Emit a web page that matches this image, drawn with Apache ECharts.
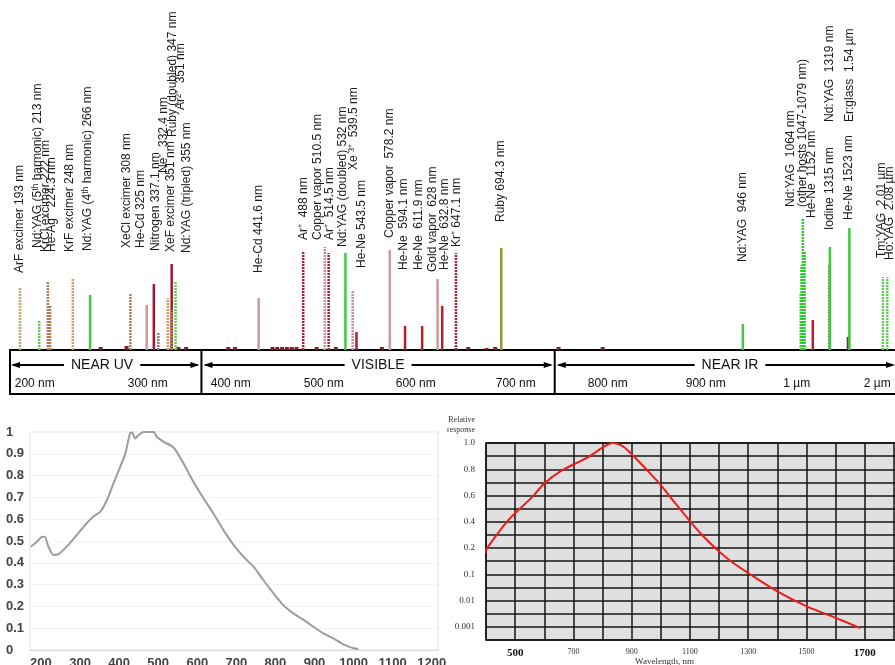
<!DOCTYPE html>
<html>
<head>
<meta charset="utf-8">
<script src="https://cdn.jsdelivr.net/npm/echarts@6/dist/echarts.min.js"></script>
<style>
  html, body { margin: 0; padding: 0; background: #fff; }
  #chart { width: 895px; height: 665px; }
</style>
</head>
<body>
<div id="chart"></div>
<script>
// ---- top panel: laser lines ----
const laserNames = [
  "ArF excimer 193 nm", "Nd:YAG (5ᵗʰ harmonic) 213 nm", "KrCl excimer 222 nm", "He-Ag⁺  224.3 nm",
  "KrF excimer 248 nm", "Nd:YAG (4ᵗʰ harmonic) 266 nm", "XeCl excimer 308 nm", "He-Cd 325 nm",
  "Ne⁺  332.4 nm", "Nitrogen 337.1 nm", "Ruby (doubled) 347 nm", "XeF excimer 351 nm",
  "Ar²⁺  351 nm", "Nd:YAG (tripled) 355 nm", "He-Cd 441.6 nm", "Ar⁺  488 nm",
  "Copper vapor 510.5 nm", "Ar⁺  514.5 nm", "Nd:YAG (doubled) 532 nm", "Xe ³⁺  539.5 nm",
  "He-Ne 543.5 nm", "Copper vapor  578.2 nm", "He-Ne  594.1 nm", "He-Ne  611.9 nm",
  "Gold vapor  628 nm", "He-Ne  632.8 nm", "Kr⁺ 647.1 nm", "Ruby 694.3 nm",
  "Nd:YAG  946 nm", "", "", "Nd:YAG  1064 nm\n(other hosts 1047-1079 nm)", "",
  "He-Ne  1152 nm", "Iodine 1315 nm", "Nd:YAG  1319 nm", "He-Ne 1523 nm",
  "Er:glass  1.54 µm", "Tm:YAG  2.01 µm", "Ho:YAG  2.08 µm"
];
const laserWavelengths = [
  193, 213, 222, 224.3, 248, 266, 308, 325, 332.4, 337.1, 347, 351, 351, 355,
  441.6, 488, 510.5, 514.5, 532, 539.5, 543.5, 578.2, 594.1, 611.9, 628, 632.8, 647.1, 694.3,
  946, 1047, 1053, 1064, 1079, 1152, 1315, 1319, 1523, 1540, 2010, 2080
];
const laserHeights = [
  63, 30, 68, 45, 72, 55, 56, 45, 66, 18, 52, 86, 40, 68,
  52, 98, 103, 97, 97, 60, 18, 100, 24, 24, 71, 44, 97, 102,
  26, 57, 85, 131, 98, 30, 85, 103, 13, 122, 73, 73
];
const laserTones = [
  "tanDot", "greenDot", "brownDot", "brownDot", "tanDot", "green", "brownDot", "mauve",
  "darkred", "grayDot", "orangeDot", "darkred", "brownDot", "greenDot",
  "mauve", "redDot", "mauveDot", "redDot", "green", "mauveDot", "red", "mauve",
  "red", "red", "mauve", "red", "redDot", "olive",
  "green", "brightDot", "brightDot", "brightDot", "brightDot", "red", "darkDot", "green",
  "darkred", "green", "greenDot", "greenDot"
];
// label layout: horizontal shift (px) and height of the label start
const labelShift = [
  0, -2, -2, 2, -3, -2, -4, -6, 10, -3, 5, -1, 9, 11,
  0, 0, -7, 1, -3, 1, 5, 0, -1, -3, -5, 2, 1, -1,
  0, 0, 0, -6, 0, -1, 0, 0, 1, 0, -1, 2
];
const labelLift = [
  77, 102, 98, 98, 98, 99, 102, 102, 177, 99, 213, 98, 240, 97,
  77, 110, 110, 110, 103, 180, 82, 112, 80, 80, 78, 80, 103, 128,
  88, 0, 0, 143, 0, 132, 120, 228, 130, 228, 92, 90
];
// tiny baseline marks
const minorWavelengths = [277, 304, 358, 366, 410, 417, 456, 461, 466, 471, 476, 481, 502, 522, 570, 660, 679, 688, 754, 800];
const minorHeights = [3, 4, 3, 3, 3, 3, 3, 3, 3, 3, 3, 3, 3, 3, 3, 3, 2, 3, 3, 3];

const scaleTicks = [200, 300, 400, 500, 600, 700, 800, 900, 1000, 2000];
const scaleTickText = ["200 nm", "300 nm", "400 nm", "500 nm", "600 nm", "700 nm", "800 nm", "900 nm", "1 µm", "2 µm"];
const scaleTickShift = [8, 25, 12, 9, 5, 9, 5, 7, 2, -5];
const regionNames = ["NEAR UV", "VISIBLE", "NEAR IR"];
const regionEdges = [175, 382, 750, 2400];

// ---- bottom left curve ----
const curveAWl = [174, 190, 203, 211, 219, 232, 245, 266, 292, 313, 334, 352, 369, 386, 403, 416, 428, 433, 441, 450,
  462, 488, 497, 514, 539, 565, 590, 616, 641, 667, 693, 718, 744, 769, 795, 820, 846, 872, 897, 923, 948, 974, 1000, 1012];
const curveAVal = [0.474, 0.497, 0.52, 0.517, 0.474, 0.436, 0.44, 0.474, 0.528, 0.573, 0.612, 0.635, 0.688, 0.765, 0.841, 0.902, 0.994, 0.998, 0.97, 0.986,
  1.0, 1.0, 0.977, 0.955, 0.93, 0.856, 0.772, 0.696, 0.627, 0.55, 0.482, 0.428, 0.382, 0.321, 0.26, 0.206, 0.168, 0.138, 0.107, 0.076, 0.053, 0.026, 0.008, 0.005];
const curveATicks = [200, 300, 400, 500, 600, 700, 800, 900, 1000, 1100, 1200];

// ---- bottom right curve ----
const respWl = [397, 404, 435, 469, 500, 560, 600, 658, 749, 800, 835, 870, 898, 950, 1000, 1050, 1101, 1150, 1200, 1250, 1300, 1400, 1501, 1600, 1685];
const respVal = [0.181, 0.2, 0.296, 0.394, 0.466, 0.592, 0.692, 0.788, 0.89, 0.965, 1.0, 0.975, 0.92, 0.8, 0.68, 0.54, 0.402, 0.28, 0.187, 0.142, 0.105, 0.0224, 0.006, 0.0022, 0.0009];
const respTicks = ["0.001", "0.01", "0.1", "0.2", "0.4", "0.6", "0.8", "1.0"];
const respXLabels = [500, 700, 900, 1100, 1300, 1500, 1700];

// wavelength scale of the top panel: linear up to 1 µm, logarithmic beyond
const pos = (w) => (w <= 1000 ? 20 + 0.96 * (w - 193) : 795 + 290 * Math.log10(w / 1000));
// stepped response scale of the right chart
const respToU = (r) => (r >= 0.2 ? 3 + (r - 0.2) / 0.2 : r >= 0.1 ? 2 + (r - 0.1) / 0.1 : 2 + Math.log10(r / 0.1));

const toneStyle = {
  tanDot: { c: "#c9a46a", dash: true },
  brownDot: { c: "#b47a55", dash: true },
  orangeDot: { c: "#d4975a", dash: true },
  greenDot: { c: "#5fcc55", dash: true },
  green: { c: "#3fc93f" },
  brightDot: { c: "#22d422", dash: true },
  mauve: { c: "#c79ba0" },
  mauveDot: { c: "#c29098", dash: true },
  darkred: { c: "#a3172c" },
  red: { c: "#b51d2c" },
  redDot: { c: "#b01e30", dash: true },
  grayDot: { c: "#8a7a70", dash: true },
  darkDot: { c: "#4a4a4a", dash: true },
  olive: { c: "#8e9b36" },
};

const sans = '"Liberation Sans", Arial, sans-serif';
const serif = '"Liberation Serif", "Times New Roman", serif';

// one rich style per scale label so each can sit a little off its tick
const scaleRich = {};
scaleTickShift.forEach((s, i) => {
  scaleRich["t" + i] = {
    fontSize: 12, color: "#111", fontFamily: sans,
    padding: s >= 0 ? [0, 0, 0, 2 * s] : [0, -2 * s, 0, 0],
  };
});

let chart = echarts.init(document.getElementById("chart"));

chart.setOption({
  animation: false,
  grid: [
    { left: 10, width: 888, top: 0, height: 350, outerBoundsMode: "none" },
    { left: 10, width: 888, top: 350, height: 44, show: true, borderColor: "#000", borderWidth: 2, outerBoundsMode: "none" },
    { left: 30, top: 432, width: 408, height: 218, show: true, borderColor: "#e2e2e2", borderWidth: 1, outerBoundsMode: "none" },
    { left: 486, top: 443, width: 437, height: 197, show: true, backgroundColor: "#e0e0e0", borderColor: "#111", borderWidth: 1.5, outerBoundsMode: "none" },
  ],
  xAxis: [
    { gridIndex: 0, type: "value", min: 10, max: 898, show: false },
    {
      gridIndex: 1, type: "value", min: 10, max: 898,
      axisLine: { show: false }, axisTick: { show: false }, splitLine: { show: false },
      axisLabel: {
        inside: true, margin: 4, fontSize: 12, color: "#111", fontFamily: sans,
        customValues: scaleTicks.map(pos),
        formatter: (v) => {
          const i = scaleTicks.findIndex((w) => Math.abs(pos(w) - v) < 0.01);
          return i >= 0 ? "{t" + i + "|" + scaleTickText[i] + "}" : "";
        },
        rich: scaleRich,
      },
    },
    {
      gridIndex: 2, type: "value", min: 172, max: 1216,
      axisLine: { show: true, lineStyle: { color: "#dcdcdc" } }, axisTick: { show: false },
      splitLine: { show: false },
      axisLabel: {
        customValues: curveATicks, margin: 7, fontSize: 13, color: "#444", fontFamily: sans, fontWeight: "bold",
        formatter: (v) => String(v),
      },
    },
    {
      gridIndex: 3, type: "value", min: 400, max: 1900, interval: 100,
      axisLine: { show: false }, axisTick: { show: false },
      splitLine: { show: true, lineStyle: { color: "#151515", width: 1.5 } },
      name: "Wavelength, nm", nameLocation: "middle", nameGap: 17, nameMoveOverlap: false,
      nameTextStyle: { fontFamily: serif, fontSize: 9, color: "#333", padding: [0, 80, 0, 0] },
      axisLabel: {
        margin: 8, fontFamily: serif, fontSize: 8, color: "#333",
        formatter: (v) => (respXLabels.includes(v) ? (v === 500 || v === 1700 ? "{b|" + v + "}" : String(v)) : ""),
        rich: { b: { fontFamily: serif, fontSize: 11, fontWeight: "bold", color: "#111" } },
      },
    },
  ],
  yAxis: [
    { gridIndex: 0, type: "value", min: 0, max: 350, show: false },
    { gridIndex: 1, type: "value", min: 0, max: 1, show: false },
    {
      gridIndex: 2, type: "value", min: 0, max: 1, interval: 0.1,
      axisLine: { show: false }, axisTick: { show: false },
      splitLine: { show: true, lineStyle: { color: "#f3f3f3" } },
      axisLabel: {
        align: "left", margin: 24, fontSize: 13, color: "#444", fontFamily: sans, fontWeight: "bold",
        formatter: (v) => (v === 0 ? "0" : v >= 1 ? "1" : v.toFixed(1)),
      },
    },
    {
      gridIndex: 3, type: "value", min: -0.5, max: 7, interval: 0.5,
      axisLine: { show: false }, axisTick: { show: false },
      splitLine: { show: true, lineStyle: { color: "#151515", width: 1.5 } },
      name: "Relative\nresponse", nameLocation: "end", nameGap: 8,
      nameTextStyle: { fontFamily: serif, fontSize: 8, color: "#333", align: "right", verticalAlign: "bottom", padding: [0, 11, 0, 0], lineHeight: 10 },
      axisLabel: {
        margin: 11, fontFamily: serif, fontSize: 9, color: "#333",
        formatter: (v) => (Number.isInteger(v) ? respTicks[v] : ""),
      },
    },
  ],
  series: [
    {
      type: "custom",
      xAxisIndex: 0, yAxisIndex: 0,
      data: minorWavelengths.map((w, i) => [pos(w), minorHeights[i]]),
      renderItem: (params, api) => {
        const b = api.coord([api.value(0), 0]);
        const t = api.coord([api.value(0), api.value(1)]);
        return { type: "rect", shape: { x: b[0] - 2, y: t[1], width: 4, height: b[1] - t[1] }, style: { fill: "#8e1a24" } };
      },
    },
    {
      type: "custom",
      xAxisIndex: 0, yAxisIndex: 0,
      data: laserWavelengths.map((w, i) => [pos(w), laserHeights[i], i]),
      renderItem: (params, api) => {
        const i = api.value(2);
        const b = api.coord([api.value(0), 0]);
        const t = api.coord([api.value(0), api.value(1)]);
        const st = toneStyle[laserTones[i]];
        const children = [
          {
            type: "line",
            shape: { x1: b[0], y1: b[1], x2: t[0], y2: t[1] },
            style: { stroke: st.c, lineWidth: 2.5, lineDash: st.dash ? [2, 1] : null },
          },
        ];
        if (laserNames[i]) {
          const p = api.coord([api.value(0) + labelShift[i], labelLift[i]]);
          children.push({
            type: "text",
            x: p[0], y: p[1], rotation: Math.PI / 2,
            style: { text: laserNames[i], fill: "#1c1c1c", font: "12px " + sans, align: "left", verticalAlign: "middle", lineHeight: 12 },
          });
        }
        return { type: "group", children };
      },
    },
    {
      type: "custom",
      xAxisIndex: 1, yAxisIndex: 1,
      data: regionNames.map((n, i) => [pos(regionEdges[i]), pos(regionEdges[i + 1]), i]),
      renderItem: (params, api) => {
        const i = api.value(2);
        const a = api.coord([api.value(0), 0.66]);
        const z = api.coord([api.value(1), 0.66]);
        const top = api.coord([api.value(1), 1]);
        const bot = api.coord([api.value(1), 0]);
        const x0 = Math.max(a[0] + 4, 13);
        const x1 = Math.min(z[0] - 4, 893);
        const y = a[1];
        const mid = (a[0] + z[0]) / 2;
        const children = [
          { type: "line", shape: { x1: x0, y1: y, x2: x1, y2: y }, style: { stroke: "#000", lineWidth: 2 } },
          { type: "polygon", shape: { points: [[x0 - 2, y], [x0 + 7, y - 3], [x0 + 7, y + 3]] }, style: { fill: "#000" } },
          { type: "polygon", shape: { points: [[x1 + 2, y], [x1 - 7, y - 3], [x1 - 7, y + 3]] }, style: { fill: "#000" } },
          {
            type: "text", x: mid, y: y,
            style: { text: regionNames[i], font: "14px " + sans, fill: "#111", align: "center", verticalAlign: "middle", backgroundColor: "#fff", padding: [1, 7] },
          },
        ];
        if (i < regionNames.length - 1) {
          children.push({ type: "line", shape: { x1: z[0], y1: top[1], x2: z[0], y2: bot[1] }, style: { stroke: "#000", lineWidth: 2 } });
        }
        return { type: "group", children };
      },
    },
    {
      type: "line",
      xAxisIndex: 2, yAxisIndex: 2,
      data: curveAWl.map((w, i) => [w, curveAVal[i]]),
      showSymbol: false,
      smooth: 0.2,
      lineStyle: { color: "#9c9c9c", width: 2 },
    },
    {
      type: "line",
      xAxisIndex: 3, yAxisIndex: 3,
      data: respWl.map((w, i) => [w, respToU(respVal[i])]),
      showSymbol: false,
      smooth: 0.3,
      clip: false,
      lineStyle: { color: "#ee1c1c", width: 2 },
    },
  ],
});
</script>
</body>
</html>
